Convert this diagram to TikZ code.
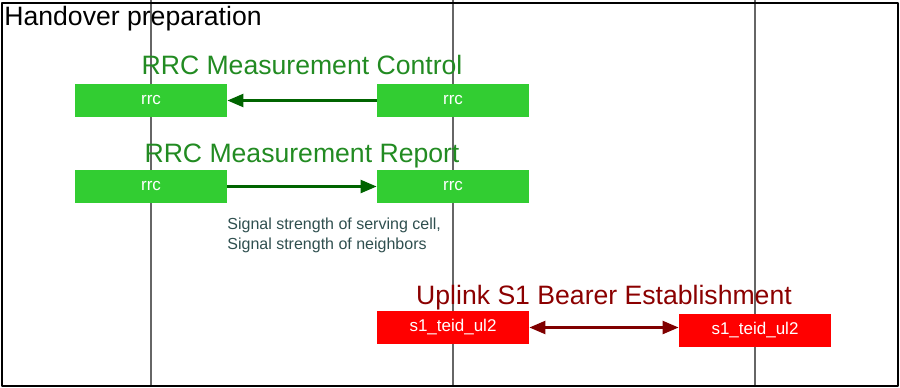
\documentclass[tikz,border=0pt]{standalone}
\usepackage{fontspec}
\setmainfont{Liberation Sans}
\usetikzlibrary{arrows.meta}
\definecolor{boxgreen}{RGB}{50,205,50}
\definecolor{titlegreen}{RGB}{34,139,34}
\definecolor{arrowgreen}{RGB}{0,100,0}
\definecolor{titlered}{RGB}{139,0,0}
\definecolor{arrowred}{RGB}{128,0,0}
\definecolor{notegray}{RGB}{47,79,79}
\begin{document}
\begin{tikzpicture}[x=0.5pt, y=-0.5pt, line join=round,
	rrcbox/.style={fill=boxgreen, text=white, minimum width=76pt, minimum height=16.5pt, inner sep=0pt, font=\fontsize{8.5}{10}\selectfont},
	s1box/.style={fill=red, text=white, minimum width=76pt, minimum height=16.5pt, inner sep=0pt, font=\fontsize{8.5}{10}\selectfont},
	msgtitle/.style={anchor=base, inner sep=0pt, font=\fontsize{13.3}{16}\selectfont},
	tip/.tip={Triangle[length=8pt,width=6.5pt]},
	msg/.style={line width=1.2pt, -tip}]
	\useasboundingbox (0,0) rectangle (900,387);
	% lifelines
	\foreach \x in {151,453,755}
		\draw[gray!80!black, line width=0.6pt] (\x,0) -- (\x,386);
	\draw[line width=1pt] (1.5,2.5) rectangle (898,385.5);
	\node[anchor=base west, inner sep=0pt, font=\fontsize{13.3}{16}\selectfont] (phase) at (4,25) {Handover preparation};
	% measurement control
	\node[msgtitle, text=titlegreen] (ctltitle) at (302,74) {RRC Measurement Control};
	\node[rrcbox] (ctlue) at (151,100.5) {rrc};
	\node[rrcbox] (ctlenb) at (453,100.5) {rrc};
	\draw[msg, arrowgreen] (ctlenb) -- (ctlue);
	% measurement report
	\node[msgtitle, text=titlegreen] (reptitle) at (302,162) {RRC Measurement Report};
	\node[rrcbox] (repue) at (151,186.5) {rrc};
	\node[rrcbox] (repenb) at (453,186.5) {rrc};
	\draw[msg, arrowgreen] (repue) -- (repenb);
	\node[anchor=north west, inner sep=0pt, align=left, text=notegray, font=\fontsize{8}{10}\selectfont] (repnote) at (227,217)
		{Signal strength of serving cell,\\Signal strength of neighbors};
	% uplink bearer
	\node[msgtitle, text=titlered] (s1title) at (604,304) {Uplink S1 Bearer Establishment};
	\node[s1box] (s1src) at (453,327.5) {s1\_teid\_ul2};
	\node[s1box] (s1tgt) at (755,330) {s1\_teid\_ul2};
	\draw[msg, arrowred, tip-tip] (s1src) -- (s1src -| s1tgt.west);
\end{tikzpicture}
\end{document}
